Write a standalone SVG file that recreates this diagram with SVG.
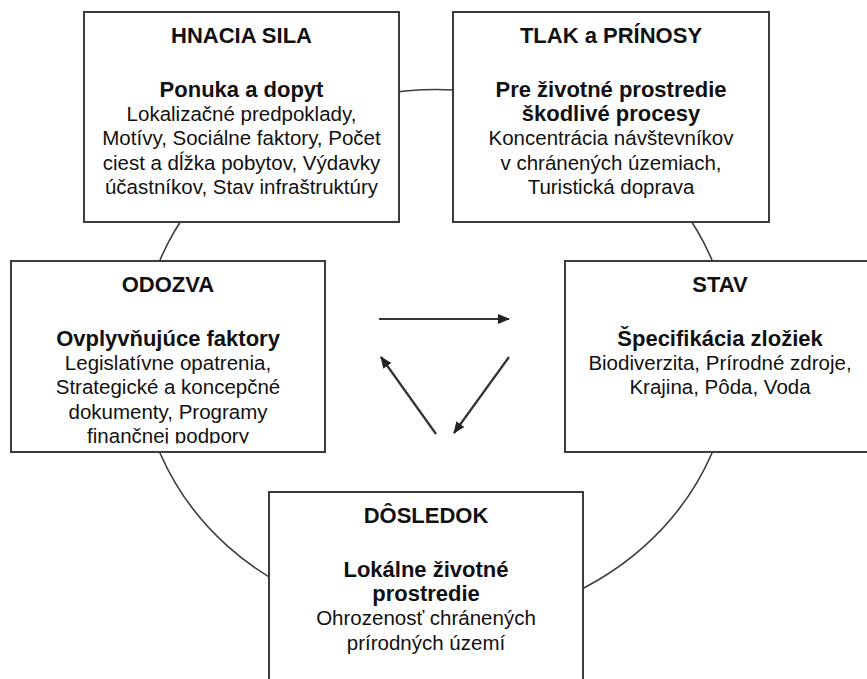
<svg xmlns="http://www.w3.org/2000/svg" width="867" height="679" viewBox="0 0 867 679">
<style>
.box{fill:#fff;stroke:#3c3c3c;stroke-width:2}
.ring{fill:none;stroke:#3c3c3c;stroke-width:1.6}
.arr{fill:none;stroke:#333;stroke-width:2.2}
text{font-family:"Liberation Sans",Arial,sans-serif;fill:#111;text-anchor:middle}
.b{font-weight:bold;font-size:22px}
.r{font-size:20.5px}
</style>
<defs>
<marker id="ah" viewBox="0 0 12 10" refX="11" refY="5" markerWidth="12" markerHeight="10" markerUnits="userSpaceOnUse" orient="auto">
<path d="M0,0 L12,5 L0,10 z" fill="#222"/>
</marker>
<clipPath id="clipOdozva"><rect x="11" y="261" width="314" height="182.5"/></clipPath>
</defs>
<g id="cycle">
<ellipse class="ring" cx="436" cy="356.5" rx="296" ry="267"/>
</g>
<g id="hnacia-sila">
<rect class="box" x="84" y="12" width="315" height="210"/>
<text class="b" x="241.5" y="42.5">HNACIA SILA</text>
<text class="b" x="241.5" y="96.5">Ponuka a dopyt</text>
<text class="r" x="241.5" y="121">Lokalizačné predpoklady,</text>
<text class="r" x="241.5" y="145.3">Motívy, Sociálne faktory, Počet</text>
<text class="r" x="241.5" y="169.6">ciest a dĺžka pobytov, Výdavky</text>
<text class="r" x="241.5" y="194">účastníkov, Stav infraštruktúry</text>
</g>
<g id="tlak-prinosy">
<rect class="box" x="453" y="12" width="316" height="210"/>
<text class="b" x="611" y="42.5">TLAK a PRÍNOSY</text>
<text class="b" x="611" y="96.5">Pre životné prostredie</text>
<text class="b" x="611" y="120.8">škodlivé procesy</text>
<text class="r" x="611" y="145.3">Koncentrácia návštevníkov</text>
<text class="r" x="611" y="169.6">v chránených územiach,</text>
<text class="r" x="611" y="194">Turistická doprava</text>
</g>
<g id="odozva">
<rect class="box" x="11" y="261" width="314" height="191"/>
<g clip-path="url(#clipOdozva)">
<text class="b" x="168" y="291.5">ODOZVA</text>
<text class="b" x="168" y="345.5">Ovplyvňujúce faktory</text>
<text class="r" x="168" y="370">Legislatívne opatrenia,</text>
<text class="r" x="168" y="394.3">Strategické a koncepčné</text>
<text class="r" x="168" y="418.6">dokumenty, Programy</text>
<text class="r" x="168" y="443">finančnej podpory</text>
</g>
</g>
<g id="stav">
<rect class="box" x="565" y="261" width="314" height="191"/>
<text class="b" x="720" y="291.5">STAV</text>
<text class="b" x="720" y="345.5">Špecifikácia zložiek</text>
<text class="r" x="720" y="370">Biodiverzita, Prírodné zdroje,</text>
<text class="r" x="720" y="394.3">Krajina, Pôda, Voda</text>
</g>
<g id="dosledok">
<rect class="box" x="269" y="492" width="314" height="200"/>
<text class="b" x="426" y="522.5">DÔSLEDOK</text>
<text class="b" x="426" y="576.5">Lokálne životné</text>
<text class="b" x="426" y="600.8">prostredie</text>
<text class="r" x="426" y="625">Ohrozenosť chránených</text>
<text class="r" x="426" y="649.5">prírodných území</text>
</g>
<g id="connectors">
<line class="arr" x1="379" y1="319" x2="509" y2="319" marker-end="url(#ah)"/>
<line class="arr" x1="509" y1="357" x2="454" y2="433" marker-end="url(#ah)"/>
<line class="arr" x1="436" y1="434" x2="381" y2="357" marker-end="url(#ah)"/>
</g>
</svg>
